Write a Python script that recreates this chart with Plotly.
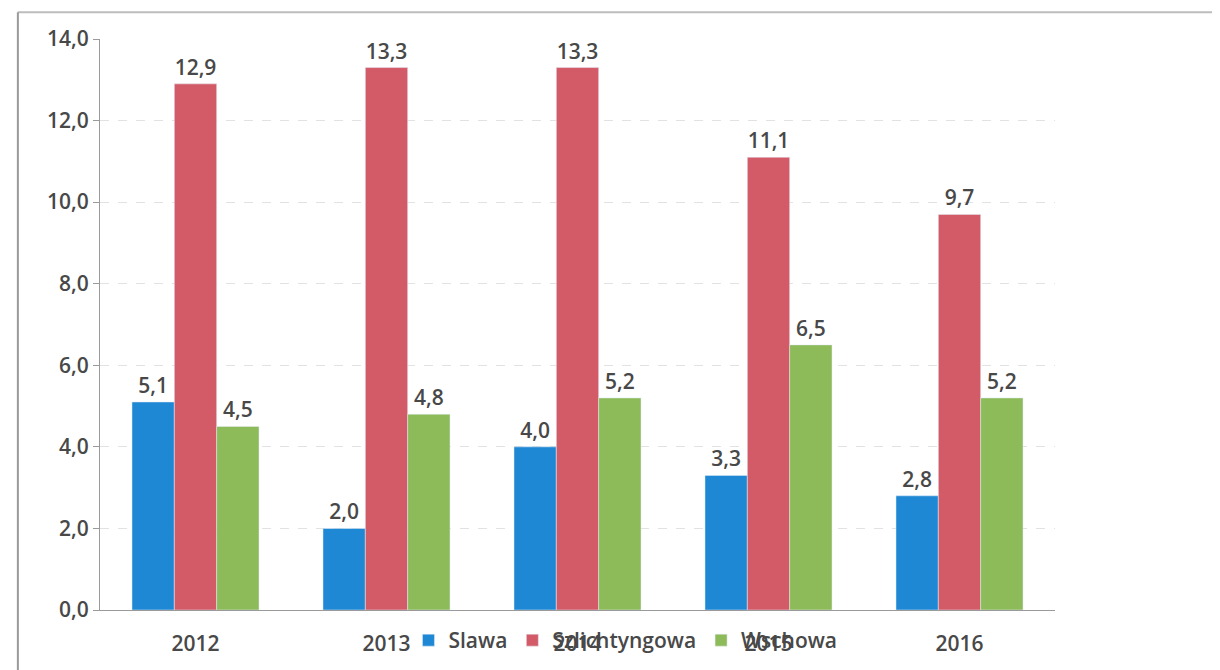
import plotly.graph_objects as go

years = ["2012", "2013", "2014", "2015", "2016"]
slawa = [5.1, 2.0, 4.0, 3.3, 2.8]
szlichtyngowa = [12.9, 13.3, 13.3, 11.1, 9.7]
wschowa = [4.5, 4.8, 5.2, 6.5, 5.2]

series = [
    ("Slawa", slawa, "#1f88d4"),
    ("Szlichtyngowa", szlichtyngowa, "#d35b68"),
    ("Wschowa", wschowa, "#8dbb5a"),
]

txt = "#484848"

fig = go.Figure()
for name, vals, col in series:
    fig.add_trace(go.Bar(
        x=years, y=vals, name=name, marker_color=col,
        text=[f"{v:.1f}".replace(".", ",") for v in vals],
        textposition="outside", cliponaxis=False,
        textfont=dict(size=21, color=txt, weight=600),
    ))

# the page body adds an 8px offset, so margins are shifted by 8px
fig.update_layout(
    width=1220, height=670,
    paper_bgcolor="white", plot_bgcolor="white",
    separators=", ",
    font=dict(family="Open Sans, DejaVu Sans", color=txt, size=20, weight=600),
    margin=dict(l=92, r=173, t=31, b=68, autoexpand=False),
    bargap=0.335, bargroupgap=0,
    showlegend=True,
    legend=dict(orientation="h", x=0.323, xanchor="left", yref="container", y=0.056,
                yanchor="middle", font=dict(size=21, weight=600), bgcolor="rgba(0,0,0,0)",
                itemwidth=30, tracegroupgap=0),
    xaxis=dict(showline=True, linecolor="#9a9a9a", ticks="", tickfont=dict(size=21),
               ticklabelstandoff=15),
    yaxis=dict(range=[0, 14], dtick=2, tickformat=".1f", showline=True, linecolor="#9a9a9a",
               ticks="outside", ticklen=6, tickcolor="#9a9a9a",
               gridcolor="#e2e2e2", griddash="dash", tickfont=dict(size=21)),
    shapes=[
        dict(type="line", xref="paper", yref="paper", x0=-0.086, x1=1.19, y0=1.047, y1=1.047,
             line=dict(color="#bdbdbd", width=2)),
        dict(type="line", xref="paper", yref="paper", x0=-0.086, x1=-0.086, y0=1.047, y1=-0.12,
             line=dict(color="#9a9a9a", width=2)),
    ],
)

fig.write_html("out.html")
